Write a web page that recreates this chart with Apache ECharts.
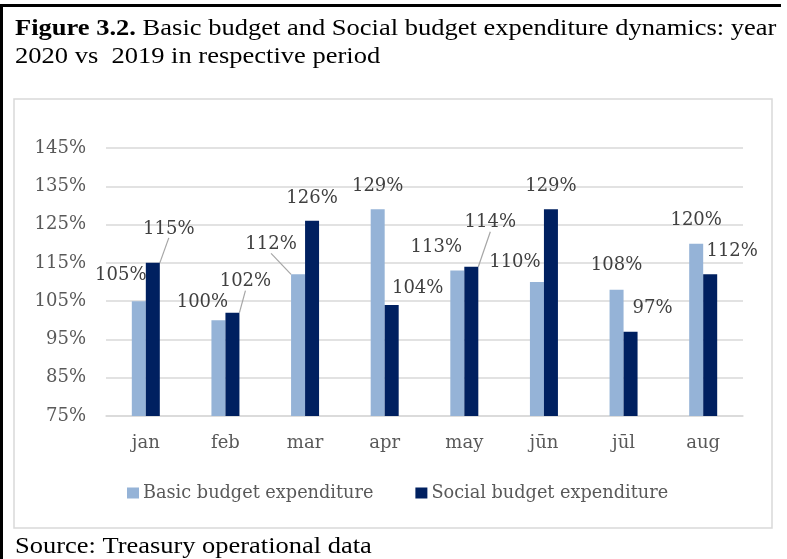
<!DOCTYPE html>
<html>
<head>
<meta charset="utf-8">
<script src="https://cdn.jsdelivr.net/npm/echarts@6/dist/echarts.min.js"></script>
<style>
  html, body { margin: 0; padding: 0; background: #fff; }
  #chart { width: 787px; height: 559px; }
</style>
</head>
<body>
<div id="chart"></div>
<script>
// Months on the category axis
const months = ['jan', 'feb', 'mar', 'apr', 'may', 'jūn', 'jūl', 'aug'];
// 2020 vs 2019 expenditure, percent
const basicBudget = [105, 100, 112, 129, 113, 110, 108, 120];
const socialBudget = [115, 102, 126, 104, 114, 129, 97, 112];
// Value-axis tick labels, percent
const yTicks = [75, 85, 95, 105, 115, 125, 135, 145];

// Hand-placed label nudges (dx, dy) and which labels get a leader line
const basicNudge = [[-18, -12], [-16, -4], [-27, -16], [0, -9], [-21, -9], [-22, -6], [0, -10], [0, -9]];
const socialNudge = [[16, -20], [13, -17], [0, -8], [26, -3], [19, -30], [0, -9], [22, -9], [22, -9]];
const basicLeader = [false, false, true, false, false, false, false, false];
const socialLeader = [true, true, false, false, true, false, false, false];

const labelFont = 'DejaVu Serif';
const serifText = 'Liberation Serif';

function items(values, leaders) {
  return values.map((v, i) => ({
    value: v,
    labelLine: { show: leaders[i] }
  }));
}

const chart = echarts.init(document.getElementById('chart'), null, { renderer: 'canvas' });

chart.setOption({
  animation: false,
  backgroundColor: '#ffffff',
  graphic: [
    // page frame lines
    { type: 'rect', shape: { x: 0, y: 4, width: 781, height: 3 }, style: { fill: '#000' }, silent: true },
    { type: 'rect', shape: { x: 0, y: 4, width: 3, height: 555 }, style: { fill: '#000' }, silent: true },
    // chart area border
    { type: 'rect', shape: { x: 14, y: 99, width: 758, height: 429 }, style: { fill: 'none', stroke: '#d9d9d9', lineWidth: 1.5 }, silent: true },
    // caption, set slightly wide
    {
      type: 'text', x: 15, y: 15, scaleX: 1.128, scaleY: 1, silent: true,
      style: {
        x: 0, y: 0, verticalAlign: 'top',
        text: '{b|Figure 3.2.} Basic budget and Social budget expenditure dynamics: year\n2020 vs  2019 in respective period',
        fontFamily: serifText, fontSize: 23.5, lineHeight: 28, fill: '#000',
        rich: {
          b: { fontFamily: serifText, fontSize: 23.5, fontWeight: 'bold', lineHeight: 28, fill: '#000' }
        }
      }
    },
    {
      type: 'text', x: 15, y: 535, scaleX: 1.15, scaleY: 1, silent: true,
      style: {
        x: 0, y: 0, verticalAlign: 'top',
        text: 'Source: Treasury operational data',
        fontFamily: serifText, fontSize: 23, fill: '#000'
      }
    }
  ],
  legend: {
    left: 127,
    top: 484,
    padding: 0,
    itemWidth: 12,
    itemHeight: 11,
    itemGap: 42,
    icon: 'rect',
    textStyle: { fontFamily: labelFont, fontSize: 17.7, color: '#595959', padding: [0, 0, 0, -1] },
    data: ['Basic budget expenditure', 'Social budget expenditure']
  },
  grid: { left: 106, right: 44, top: 148, bottom: 143, containLabel: false },
  xAxis: {
    type: 'category',
    data: months,
    axisLine: { show: true, lineStyle: { color: '#d9d9d9', width: 1.5 } },
    axisTick: { show: false },
    axisLabel: { fontFamily: labelFont, fontSize: 18, color: '#595959', margin: 18 }
  },
  yAxis: {
    type: 'value',
    min: 75,
    max: 145,
    axisLine: { show: false },
    axisTick: { show: false, customValues: yTicks },
    axisLabel: {
      customValues: yTicks,
      fontFamily: labelFont, fontSize: 18, color: '#595959', margin: 20,
      formatter: v => v + '%'
    },
    splitLine: { show: true, lineStyle: { color: '#d9d9d9', width: 1.5 } }
  },
  series: [
    {
      name: 'Basic budget expenditure',
      type: 'bar',
      barWidth: 14,
      barGap: '0%',
      itemStyle: { color: '#95b3d7' },
      data: items(basicBudget, basicLeader),
      label: {
        show: true, position: 'top', distance: 5,
        fontFamily: labelFont, fontSize: 18, color: '#404040',
        formatter: p => p.value + '%'
      },
      labelLine: { show: false, lineStyle: { color: '#a6a6a6', width: 1.2 } },
      labelLayout: p => ({ dx: basicNudge[p.dataIndex][0], dy: basicNudge[p.dataIndex][1] })
    },
    {
      name: 'Social budget expenditure',
      type: 'bar',
      barWidth: 14,
      barGap: '0%',
      itemStyle: { color: '#002060' },
      data: items(socialBudget, socialLeader),
      label: {
        show: true, position: 'top', distance: 5,
        fontFamily: labelFont, fontSize: 18, color: '#404040',
        formatter: p => p.value + '%'
      },
      labelLine: { show: false, lineStyle: { color: '#a6a6a6', width: 1.2 } },
      labelLayout: p => ({ dx: socialNudge[p.dataIndex][0], dy: socialNudge[p.dataIndex][1] })
    }
  ]
});
</script>
</body>
</html>
